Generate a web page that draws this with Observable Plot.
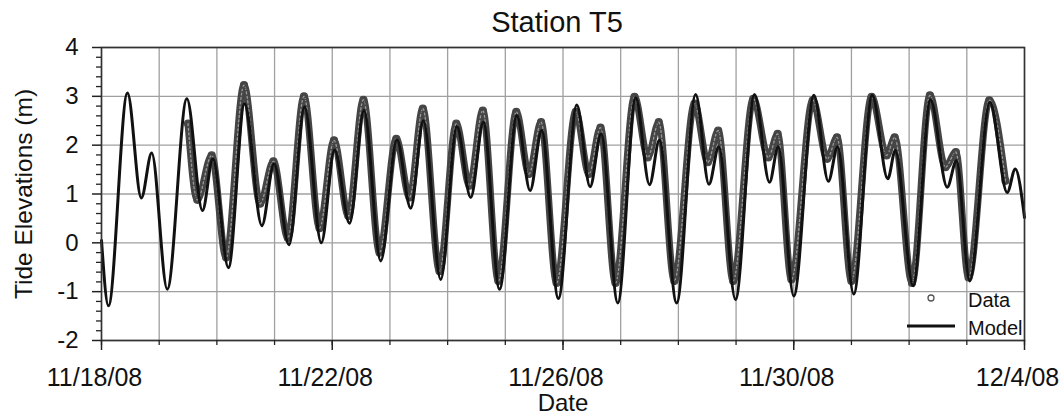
<!DOCTYPE html>
<html><head><meta charset="utf-8">
<script src="https://cdn.jsdelivr.net/npm/d3@7"></script>
<script src="https://cdn.jsdelivr.net/npm/@observablehq/plot@0.6"></script>
<style>
body{margin:0;background:#fff;font-family:"Liberation Sans",Arial,sans-serif;}
#wrap{position:relative;width:1062px;height:417px;overflow:hidden;}
#title{position:absolute;left:0;top:8px;width:1114px;text-align:center;font-size:29px;line-height:29px;color:#111;}
#chart{position:absolute;left:0;top:40px;}
#legend{position:absolute;left:0;top:0;}
</style></head><body>
<div id="wrap">
  <div id="title">Station T5</div>
  <div id="chart"></div>
  <svg id="legend" width="1062" height="417"></svg>
</div>
<script>
// ---- data (time in days after 11/18/08 00:00, tide elevation in m) ----
const modelT = [0.00,0.12,0.45,0.69,0.87,1.14,1.48,1.75,1.93,2.20,2.48,2.78,2.99,3.25,3.52,3.81,4.04,4.30,4.55,4.84,5.12,5.36,5.58,5.88,6.16,6.40,6.62,6.90,7.20,7.43,7.63,7.92,8.24,8.47,8.66,8.95,9.26,9.50,9.67,9.97,10.30,10.53,10.70,10.99,11.32,11.58,11.73,12.00,12.35,12.60,12.76,13.04,13.36,13.63,13.76,14.07,14.37,14.66,14.82,15.05,15.40,15.70,15.84,16.00];
const modelV = [0.05,-1.29,3.07,0.92,1.84,-0.95,2.95,0.66,1.72,-0.51,2.85,0.35,1.62,-0.04,2.78,0.00,1.90,0.40,2.71,-0.37,2.11,0.71,2.50,-0.75,2.38,0.93,2.47,-0.95,2.61,1.07,2.30,-1.14,2.82,1.15,2.23,-1.23,2.97,1.19,2.10,-1.23,3.04,1.20,1.97,-1.16,3.04,1.24,1.97,-1.09,3.02,1.26,1.97,-1.05,3.02,1.31,1.89,-0.88,2.93,1.14,1.68,-0.78,2.88,1.03,1.51,0.52];
const dataT = [1.50,1.66,1.91,2.16,2.47,2.75,2.98,3.23,3.51,3.78,4.03,4.28,4.54,4.82,5.11,5.34,5.57,5.86,6.15,6.38,6.61,6.88,7.19,7.41,7.62,7.89,8.22,8.45,8.65,8.91,9.24,9.47,9.66,9.93,10.28,10.51,10.69,10.95,11.30,11.56,11.72,11.96,12.33,12.58,12.75,13.00,13.35,13.61,13.75,14.05,14.36,14.63,14.81,15.03,15.39,15.67];
const dataV = [2.44,0.88,1.79,-0.30,3.23,0.80,1.67,0.10,3.00,0.30,2.10,0.55,2.93,-0.20,2.13,0.93,2.75,-0.58,2.44,1.17,2.71,-0.78,2.68,1.41,2.47,-0.82,2.68,1.41,2.36,-0.82,2.99,1.75,2.47,-0.78,2.85,1.65,2.30,-0.78,2.95,1.75,2.23,-0.75,2.92,1.72,2.16,-0.78,2.99,1.79,2.16,-0.82,3.02,1.55,1.86,-0.71,2.92,1.27];
const yTicks = [-2,-1,0,1,2,3,4];
const yTickLabels = ["-2","-1","0","1","2","3","4"];
const yMinor = [-1.8,-1.6,-1.4,-1.2,-0.8,-0.6,-0.4,-0.2,0.2,0.4,0.6,0.8,1.2,1.4,1.6,1.8,2.2,2.4,2.6,2.8,3.2,3.4,3.6,3.8];
const xTickLabels = ["11/18/08","11/22/08","11/26/08","11/30/08","12/4/08"];
const xMajorDays = [0,4,8,12,16];
const nDays = 16;

const start = new Date(Date.UTC(2008,10,18));
const toDate = t => new Date(start.getTime() + t*864e5);
const model = modelT.map((t,i)=>({date:toDate(t), value:modelV[i]}));
const data = dataT.map((t,i)=>({date:toDate(t), value:dataV[i]}));
const dayTicks = d3.range(0, nDays+1).map(toDate);
const majorTicks = xMajorDays.map(toDate);
const labelOf = new Map(majorTicks.map((d,i)=>[+d, xTickLabels[i]]));
const yLabelOf = new Map(yTicks.map((v,i)=>[v, yTickLabels[i]]));

const font = '"Liberation Sans", Arial, sans-serif';
const chart = Plot.plot({
  width:1062, height:377,
  marginTop:7, marginBottom:77, marginLeft:101, marginRight:38,
  x:{type:"utc", domain:[toDate(0), toDate(nDays)]},
  y:{domain:[-2,4]},
  style:{fontFamily:font, background:"white", color:"#111", overflow:"visible"},
  marks:[
    Plot.gridX(dayTicks,{stroke:"#a0a0a0", strokeOpacity:1, strokeWidth:1.3}),
    Plot.gridY(yTicks,{stroke:"#a0a0a0", strokeOpacity:1, strokeWidth:1.3}),
    Plot.lineY(data,{x:"date", y:"value", curve:"monotone-x", stroke:"#454545", strokeWidth:7}),
    Plot.lineY(data,{x:"date", y:"value", curve:"monotone-x", stroke:"white", strokeWidth:1.3, strokeDasharray:"2,2.5", strokeOpacity:0.45}),
    Plot.dot(data,{x:"date", y:"value", r:3.5, stroke:"#454545", fill:"none", strokeWidth:1.2}),
    Plot.lineY(model,{x:"date", y:"value", curve:"monotone-x", stroke:"#111", strokeWidth:3}),
    Plot.frame({stroke:"#333", strokeWidth:1.6}),
    Plot.axisY(yTicks,{tickSize:9, tickPadding:14, fontSize:24, label:null, stroke:"#222", strokeWidth:1.5, tickFormat:v=>yLabelOf.get(v)}),
    Plot.axisY(yMinor,{tickSize:5, text:null, label:null, stroke:"#222", strokeWidth:1.3}),
    Plot.axisX(majorTicks,{tickSize:10, text:null, label:null, stroke:"#222", strokeWidth:1.5}),
    Plot.axisX(dayTicks,{tickSize:5, text:null, label:null, stroke:"#222", strokeWidth:1.3}),
    Plot.axisX(majorTicks,{tickSize:0, tickPadding:28, dx:-7, fontSize:25, label:null, tickFormat:d=>labelOf.get(+d)}),
    Plot.text(["Tide Elevations (m)"],{frameAnchor:"left", textAnchor:"middle", lineAnchor:"middle", rotate:-90, dx:-77.5, fontSize:24.5, fill:"#111"}),
    Plot.text(["Date"],{frameAnchor:"bottom", textAnchor:"middle", lineAnchor:"middle", dy:63, fontSize:24, fill:"#111"})
  ]
});
document.getElementById("chart").appendChild(chart);

// legend (inside the plot frame, bottom right)
const lg = d3.select("#legend");
lg.append("circle").attr("cx",931).attr("cy",298).attr("r",3).attr("fill","white").attr("stroke","#555").attr("stroke-width",1.3);
lg.append("text").attr("x",968).attr("y",307).attr("font-family",font).attr("font-size",20).attr("fill","#111").text("Data");
lg.append("line").attr("x1",907).attr("x2",955).attr("y1",326).attr("y2",326).attr("stroke","#111").attr("stroke-width",3);
lg.append("text").attr("x",968).attr("y",335).attr("font-family",font).attr("font-size",20).attr("fill","#111").text("Model");
</script>
</body></html>
